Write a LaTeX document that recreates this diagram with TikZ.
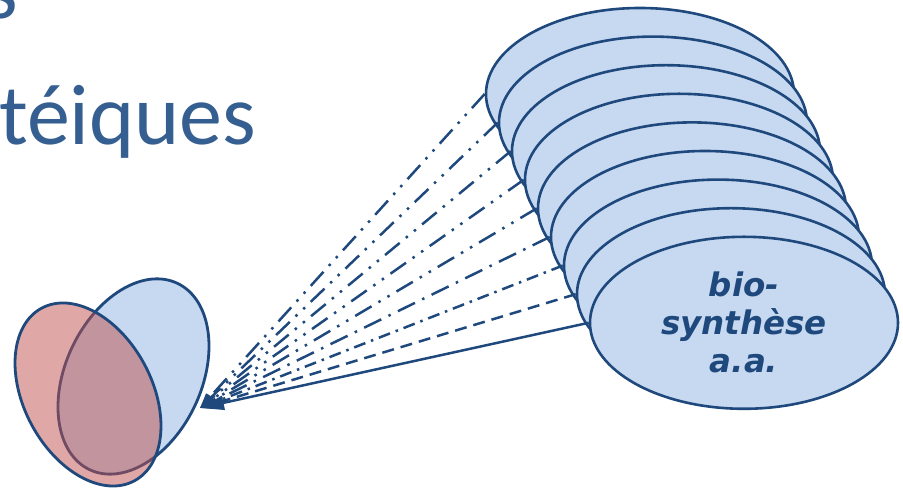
\documentclass[tikz,border=0pt]{standalone}
\usepackage{fontspec}
\setmainfont{DejaVu Sans}
\newfontfamily\titlefont{Carlito}
\newfontfamily\labelfont{DejaVu Sans}
\usetikzlibrary{shapes.geometric,arrows.meta}
\definecolor{outl}{RGB}{31,73,125}
\definecolor{bluefill}{RGB}{198,217,241}
\definecolor{redfill}{RGB}{192,80,77}
\definecolor{titleblue}{RGB}{54,95,145}
\begin{document}
\begin{tikzpicture}[x=1pt,y=1pt,
  disc/.style={ellipse, draw=outl, line width=2.6pt, fill=bluefill,
    minimum width=308pt, minimum height=172pt, inner sep=0pt},
  cell/.style={ellipse, draw=outl, line width=2.8pt, inner sep=0pt},
  link/.style={draw=outl, line width=2.5pt, -{Triangle[length=15pt,width=10pt]}},
  mainlink/.style={draw=outl, line width=2.5pt, -{Triangle[length=24pt,width=14pt]}},
  lgdashdotdot/.style={dash pattern=on 19pt off 8pt on 2.5pt off 8pt on 2.5pt off 8pt},
  lgdashdot/.style={dash pattern=on 19pt off 8pt on 2.5pt off 8pt},
  shdashdot/.style={dash pattern=on 12pt off 6pt on 2.5pt off 6pt},
  shdash/.style={dash pattern=on 12pt off 7pt},
  titletext/.style={anchor=base west, inner sep=0pt, text=titleblue,
    font=\titlefont\fontsize{86}{100}\selectfont},
  labeltext/.style={align=center, text=outl, inner sep=0pt,
    font=\labelfont\bfseries\itshape\fontsize{32.5}{38}\selectfont}]
\useasboundingbox (0,0) rectangle (903,489);
\clip (0,0) rectangle (903,489);

% title fragments
\node[titletext] (prev) at (-16,470) {s};
\node[titletext] (title) at (-1,344) {téiques};

% cell on the left
\node[cell, fill=bluefill, minimum width=206pt, minimum height=136pt, rotate=64.9] (cellB) at (133.5,112.5) {};
\node[cell, fill=redfill, fill opacity=0.5, draw opacity=1, minimum width=196pt, minimum height=128pt, rotate=118.2] (cellR) at (88,94.5) {};

% stack of discs
\foreach \i in {0,...,8}{
  \node[disc] (e\i) at ({640+13*\i},{395-28.6*\i}) {};
}
\node[labeltext] (lbl) at (e8.center) {bio-\\synthèse\\a.a.};

\coordinate (tip) at (200,81);

% connectors
\draw[link, lgdashdotdot] (e0.west) -- (tip);
\draw[link, lgdashdotdot] (e1.west) -- (tip);
\draw[link, lgdashdotdot] (e2.west) -- (tip);
\draw[link, lgdashdotdot] (e3.west) -- (tip);
\draw[link, lgdashdotdot] (e4.west) -- (tip);
\draw[link, lgdashdot] (e5.west) -- (tip);
\draw[link, shdashdot] (e6.west) -- (tip);
\draw[link, shdash] (e7.west) -- (tip);
\draw[mainlink] (e8.west) -- (tip);
\end{tikzpicture}
\end{document}
